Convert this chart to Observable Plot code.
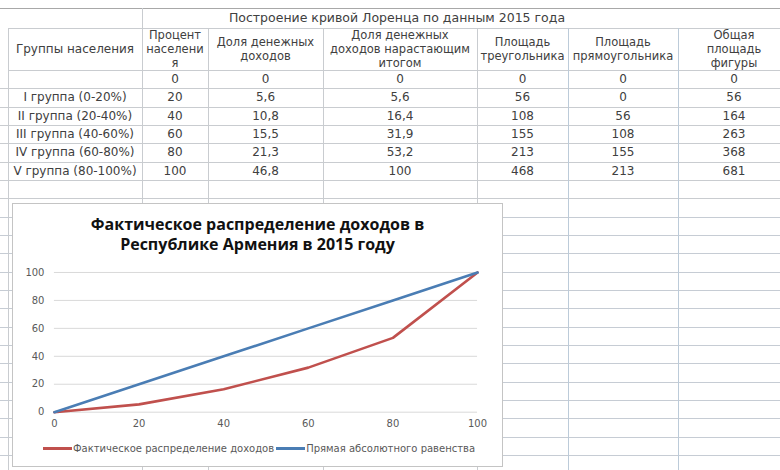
<!DOCTYPE html>
<html><head><meta charset="utf-8">
<script src="https://cdn.jsdelivr.net/npm/d3@7"></script>
<script src="https://cdn.jsdelivr.net/npm/@observablehq/plot@0.6"></script>
<style>
html,body{margin:0;padding:0;background:#fff}
body{width:780px;height:470px;overflow:hidden;position:relative;font-family:"DejaVu Sans",sans-serif;color:#404040}
.hl{position:absolute;height:1px;background:#c9ccd0}
.vl{position:absolute;width:1px;background:#c9ccd0}
.cell{position:absolute;display:flex;align-items:center;justify-content:center;text-align:center;font-size:12px;line-height:14px;overflow:hidden;white-space:pre-line}
.hdr{font-size:11.5px}
#chart{position:absolute;left:12px;top:203px;width:491px;height:264px;background:#fff;border:1px solid #c4c4c4;box-sizing:border-box}
#ctitle{position:absolute;left:0;top:10px;width:100%;text-align:center;font-family:"Open Sans",sans-serif;font-weight:700;font-size:16px;line-height:20px;color:#111}
#plot{position:absolute;left:-1px;top:58px}
#legend{position:absolute;top:239px;left:30px;display:flex;align-items:center;font-size:10px;color:#595959;white-space:nowrap}
#legend .sw{display:inline-block;width:29px;height:2.5px;margin-right:1px}
</style></head>
<body>
<div id="sheet"></div>
<div id="chart"><div id="ctitle"></div><div id="plot"></div><div id="legend"></div></div>
<script>
// ---- data ----
const tableTitle = "Построение кривой Лоренца по данным 2015 года";
const headers = ["Группы населения", "Процент\nнаселени\nя", "Доля денежных\nдоходов", "Доля денежных\nдоходов нарастающим\nитогом", "Площадь\nтреугольника", "Площадь\nпрямоугольника", "Общая\nплощадь\nфигуры"];
const groups = ["", "I группа (0-20%)", "II группа (20-40%)", "III группа (40-60%)", "IV группа (60-80%)", "V группа (80-100%)"];
const pctPopulation = [0, 20, 40, 60, 80, 100];
const incomeShare = [0, 5.6, 10.8, 15.5, 21.3, 46.8];
const cumulativeShare = [0, 5.6, 16.4, 31.9, 53.2, 100];
const triangleArea = [0, 56, 108, 155, 213, 468];
const rectangleArea = [0, 0, 56, 108, 155, 213];
const totalArea = [0, 56, 164, 263, 368, 681];
const chartTitle = ["Фактическое распределение доходов в", "Республике Армения в 2015 году"];
const seriesNames = ["Фактическое распределение доходов", "Прямая абсолютного равенства"];
const seriesColors = ["#c0504d", "#4a7db4"];
const axisTicks = [0, 20, 40, 60, 80, 100];

// ---- spreadsheet ----
const colX = [8, 142, 208, 323, 477, 568, 678, 790];
const rowH = 18.33;
const sheet = document.getElementById("sheet");
function add(cls, style, text) {
  const d = document.createElement("div");
  d.className = cls;
  Object.assign(d.style, style);
  if (text !== undefined) d.textContent = text;
  sheet.appendChild(d);
  return d;
}
const fmt = v => String(v).replace(".", ",");
// title row
add("hl", {left: "0px", top: "8px", width: "780px", background: "#a8a8a8"});
add("hl", {left: "8px", top: "28px", width: "772px"});
add("vl", {left: "142px", top: "8px", height: "20px"});
add("cell", {left: "142px", top: "8px", width: "510px", height: "20px", fontSize: "12.5px"}, tableTitle);
// header row
add("hl", {left: "8px", top: "70px", width: "772px"});
headers.forEach((h, i) => {
  add("cell hdr", {left: colX[i] + "px", top: "28px", width: (colX[i+1]-colX[i]) + "px", height: "42px", fontSize: i === 0 ? "12px" : "11.5px"}, h);
});
// data rows
const cols = [groups, pctPopulation, incomeShare, cumulativeShare, triangleArea, rectangleArea, totalArea];
groups.forEach((g, r) => {
  const y = 70 + r * rowH;
  cols.forEach((c, i) => {
    add("cell", {left: colX[i] + "px", top: y + "px", width: (colX[i+1]-colX[i]) + "px", height: rowH + "px"}, typeof c[r] === "number" ? fmt(c[r]) : c[r]);
  });
});
// horizontal grid lines
for (let k = 1; 70 + k * rowH < 472; k++) {
  add("hl", {left: "0px", top: Math.round(70 + k * rowH) + "px", width: "780px", background: k <= 7 ? "#c9ccd0" : "#c6ccd4"});
}
// vertical grid lines
colX.slice(0, 7).forEach((x, i) => {
  add("vl", {left: x + "px", top: "28px", height: "445px", background: i >= 5 ? "#bccbd9" : "#c9ccd0"});
});

// ---- chart ----
document.getElementById("ctitle").innerHTML = chartTitle.join("<br>");
const actual = pctPopulation.map((p, i) => ({x: p, y: cumulativeShare[i]}));
const equality = pctPopulation.map(p => ({x: p, y: p}));
const plot = Plot.plot({
  width: 491, height: 175,
  marginLeft: 42, marginRight: 25, marginTop: 10, marginBottom: 25,
  style: {fontFamily: "DejaVu Sans, sans-serif", fontSize: "10px", color: "#595959", background: "transparent"},
  x: {domain: [0, 100], ticks: axisTicks, tickSize: 0, tickPadding: 8, label: null},
  y: {domain: [0, 100], ticks: axisTicks, tickSize: 0, tickPadding: 10, label: null},
  marks: [
    Plot.ruleY(axisTicks, {stroke: "#d9d9d9", strokeWidth: 1}),
    Plot.line(actual, {x: "x", y: "y", stroke: seriesColors[0], strokeWidth: 2.6}),
    Plot.line(equality, {x: "x", y: "y", stroke: seriesColors[1], strokeWidth: 2.6})
  ]
});
document.getElementById("plot").appendChild(plot);
const legend = document.getElementById("legend");
seriesNames.forEach((n, i) => {
  const s = document.createElement("span"); s.className = "sw"; s.style.background = seriesColors[i];
  const t = document.createElement("span"); t.textContent = n; t.style.marginRight = "2px";
  legend.appendChild(s); legend.appendChild(t);
});
</script>
</body></html>
